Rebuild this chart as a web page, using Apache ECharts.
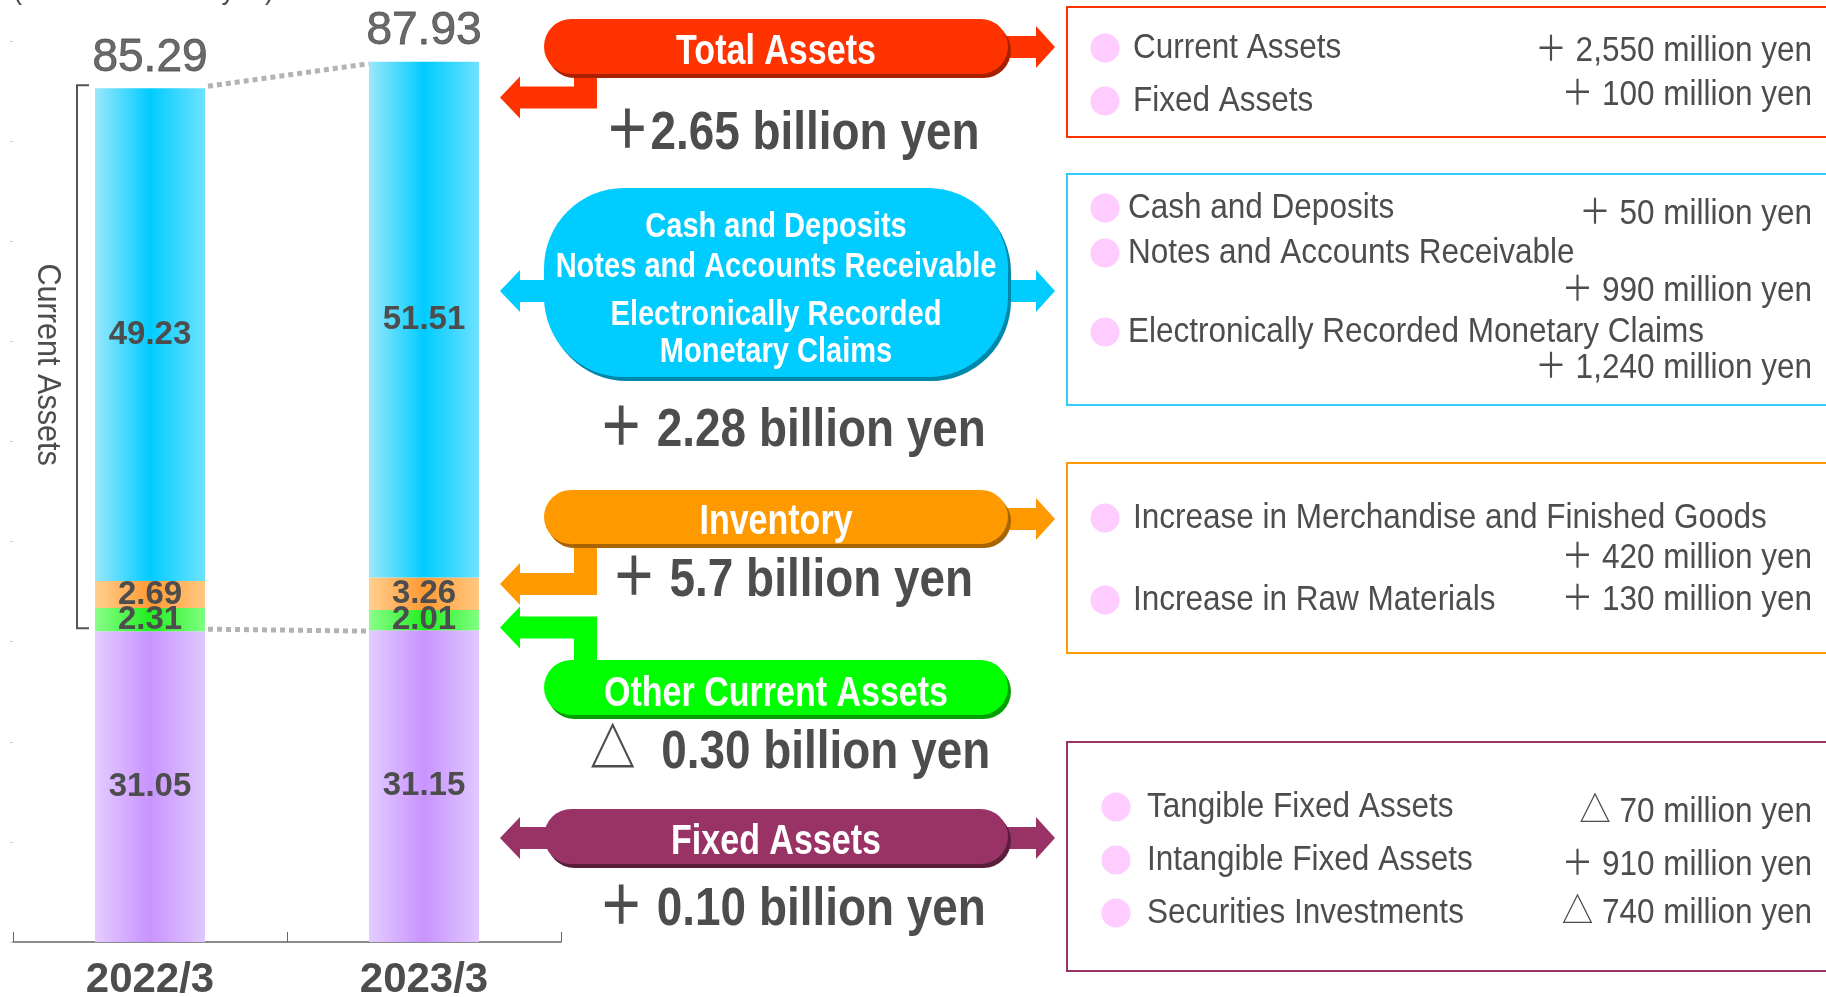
<!DOCTYPE html>
<html>
<head>
<meta charset="utf-8">
<script src="https://cdn.jsdelivr.net/npm/echarts@6/dist/echarts.min.js"></script>
<style>
  html, body { margin: 0; padding: 0; background: #fff; }
  #main { width: 1826px; height: 997px; }
</style>
</head>
<body>
<div id="main"></div>
<script>
// values (unit: 100 million yen)
const categories = ['2022/3', '2023/3']
const fixedAssets = [31.05, 31.15]
const otherCurrent = [2.31, 2.01]
const inventory = [2.69, 3.26]
const cashReceivables = [49.23, 51.51]
const totals = [85.29, 87.93]

// callout texts
const calloutTitles = ['Total Assets', 'Inventory', 'Other Current Assets', 'Fixed Assets']
const cashTitleLines = ['Cash and Deposits', 'Notes and Accounts Receivable', 'Electronically Recorded', 'Monetary Claims']
const calloutChanges = ['＋2.65 billion yen', '＋ 2.28 billion yen', '＋ 5.7 billion yen', '△  0.30 billion yen', '＋ 0.10 billion yen']

// detail boxes: [label, change]
const totalDetails = [['Current Assets', '＋ 2,550 million yen'], ['Fixed Assets', '＋ 100 million yen']]
const cashDetails = [['Cash and Deposits', '＋ 50 million yen'], ['Notes and Accounts Receivable', '＋ 990 million yen'], ['Electronically Recorded Monetary Claims', '＋ 1,240 million yen']]
const inventoryDetails = [['Increase in Merchandise and Finished Goods', '＋ 420 million yen'], ['Increase in Raw Materials', '＋ 130 million yen']]
const fixedDetails = [['Tangible Fixed Assets', '△ 70 million yen'], ['Intangible Fixed Assets', '＋ 910 million yen'], ['Securities Investments', '△ 740 million yen']]

const FONT = "'Liberation Sans', 'Noto Sans CJK JP', Arial, sans-serif"
const GRAY = '#4d4d4d'

const grad = (edgeL, mid, edgeR) => new echarts.graphic.LinearGradient(0, 0, 1, 0, [
  { offset: 0, color: edgeL },
  { offset: 0.5, color: mid },
  { offset: 1, color: edgeR }
])

const segLabel = {
  show: true,
  position: 'inside',
  fontSize: 33,
  fontWeight: 'bold',
  fontFamily: FONT,
  color: GRAY
}

const chart = echarts.init(document.getElementById('main'))

chart.setOption({
  animation: false,
  backgroundColor: '#fff',
  grid: { left: 13, width: 548, top: 41, height: 901, outerBoundsMode: 'none', containLabel: false },
  xAxis: {
    type: 'category',
    data: categories,
    axisLine: { lineStyle: { color: '#666', width: 1.5 } },
    axisTick: { show: true, inside: true, length: 10, lineStyle: { color: '#666' } },
    axisLabel: { fontSize: 42, fontWeight: 'bold', fontFamily: FONT, color: GRAY, margin: 17 }
  },
  yAxis: {
    type: 'value',
    min: 0,
    max: 90,
    interval: 10,
    axisLine: { show: false },
    axisTick: { show: true, length: 3, lineStyle: { color: '#ccc' } },
    axisLabel: { show: false },
    splitLine: { show: false }
  },
  series: [
    {
      name: 'Fixed Assets', type: 'bar', stack: 'a', barWidth: 110, data: fixedAssets,
      itemStyle: { color: grad('#e4ccff', '#c993ff', '#e0c8ff') }, label: segLabel
    },
    {
      name: 'Other Current Assets', type: 'bar', stack: 'a', data: otherCurrent,
      itemStyle: { color: grad('#8aff8a', '#22ee22', '#80ff80') }, label: segLabel
    },
    {
      name: 'Inventory', type: 'bar', stack: 'a', data: inventory,
      itemStyle: { color: grad('#ffcf8f', '#ff9a33', '#ffc880') }, label: segLabel
    },
    {
      name: 'Cash etc.', type: 'bar', stack: 'a', data: cashReceivables,
      itemStyle: { color: grad('#9ae8fc', '#00ccff', '#6ee2ff') }, label: segLabel
    },
    {
      name: 'Total', type: 'scatter', data: totals, symbolSize: 0, silent: true, z: 5,
      label: { show: true, position: 'top', distance: 7, fontSize: 46, fontFamily: FONT, color: '#454545', textBorderColor: '#454545', textBorderWidth: 0.8 }
    }
  ]
})

// ---- annotations, placed from the axes' own scale ----
const px = (i, v) => chart.convertToPixel({ xAxisIndex: 0, yAxisIndex: 0 }, [i, v])
const half = 55

const t0 = px(0, totals[0])
const t1 = px(1, totals[1])
const f0 = px(0, fixedAssets[0])
const f1 = px(1, fixedAssets[1])

const text = (x, y, s, size, o = {}) => ({
  type: 'text', x, y, z: 20,
  scaleX: o.sx || 1, rotation: o.rot || 0,
  style: {
    text: s, fontSize: size, fontWeight: o.bold ? 'bold' : 'normal', fontFamily: FONT,
    fill: o.color || GRAY, align: o.align || 'left', verticalAlign: 'middle'
  }
})

const pill = (x, y, w, h, r, color, dark) => [
  { type: 'rect', z: 6, shape: { x: x + 3, y: y + 4, width: w, height: h, r }, style: { fill: dark } },
  { type: 'rect', z: 7, shape: { x, y, width: w, height: h, r }, style: { fill: color } }
]

const poly = (points, color) => ({ type: 'polygon', z: 5, shape: { points }, style: { fill: color } })
const rightArrow = (yc, color) => poly([[1000, yc - 11], [1036, yc - 11], [1036, yc - 21], [1055, yc], [1036, yc + 21], [1036, yc + 11], [1000, yc + 11]], color)
const leftArrow = (yc, color) => poly([[556, yc - 11], [520, yc - 11], [520, yc - 21], [500, yc], [520, yc + 21], [520, yc + 11], [556, yc + 11]], color)
const elbowDown = (yStem, yc, color) => poly([[574, yStem], [597, yStem], [597, yc + 11], [520, yc + 11], [520, yc + 21], [500, yc], [520, yc - 21], [520, yc - 11], [574, yc - 11]], color)
const elbowUp = (yStem, yc, color) => poly([[597, yStem], [597, yc - 11], [520, yc - 11], [520, yc - 21], [500, yc], [520, yc + 21], [520, yc + 11], [574, yc + 11], [574, yStem]], color)

const box = (y, h, color) => ({ type: 'rect', z: 4, shape: { x: 1067, y, width: 800, height: h }, style: { fill: 'none', stroke: color, lineWidth: 2 } })
const bullet = (x, y) => ({ type: 'circle', z: 8, shape: { cx: x, cy: y, r: 14.5 }, style: { fill: '#ffccff' } })

const detailRows = (rows, bx, tx, ys, vys) => {
  const out = []
  rows.forEach((r, i) => {
    out.push(bullet(bx, ys[i]))
    out.push(text(tx, ys[i], r[0], 35, { sx: 0.9 }))
    out.push(text(1812, vys[i], r[1], 35, { sx: 0.9, align: 'right' }))
  })
  return out
}

const g = []

// unit caption (cut at top edge)
g.push(text(13, -9, '(Unit: 100 million yen)', 30, { sx: 0.9 }))

// dotted connectors between the two bars
const dotted = { stroke: '#b3b3b3', lineWidth: 5, lineDash: [5, 4] }
g.push({ type: 'line', z: 3, shape: { x1: t0[0] + half + 3, y1: t0[1] - 2, x2: t1[0] - half, y2: t1[1] + 2 }, style: dotted })
g.push({ type: 'line', z: 3, shape: { x1: f0[0] + half + 3, y1: f0[1] - 2, x2: f1[0] - half, y2: f1[1] + 1 }, style: dotted })

// Current Assets bracket
const bTop = t0[1] - 3
const bBot = f0[1] - 3
g.push({ type: 'polyline', z: 3, shape: { points: [[89, bTop], [77, bTop], [77, bBot], [89, bBot]] }, style: { stroke: '#555', lineWidth: 2, fill: 'none' } })
g.push(text(47, (bTop + bBot) / 2 + 8, 'Current Assets', 34, { sx: 0.9, rot: -Math.PI / 2, align: 'center' }))

// Total Assets callout
g.push(...pill(544, 19, 464, 55, 27.5, '#ff3300', '#a82000'))
g.push(rightArrow(47, '#ff3300'), elbowDown(70, 97.5, '#ff3300'))
g.push(text(776, 52, calloutTitles[0], 42, { bold: true, sx: 0.81, color: '#fff', align: 'center' }))
g.push(text(792, 134, calloutChanges[0], 54, { bold: true, sx: 0.85, align: 'center' }))

// Cash / receivables callout
g.push(...pill(544, 188, 464, 189, 80, '#00ccff', '#0088aa'))
g.push(rightArrow(291, '#00ccff'), leftArrow(291, '#00ccff'))
const cashYs = [227, 267, 315, 352]
cashTitleLines.forEach((s, i) => g.push(text(776, cashYs[i], s, 35, { bold: true, sx: 0.83, color: '#fff', align: 'center' })))
g.push(text(792, 431, calloutChanges[1], 54, { bold: true, sx: 0.85, align: 'center' }))

// Inventory callout
g.push(...pill(544, 490, 464, 54, 27, '#ff9900', '#a86400'))
g.push(rightArrow(519, '#ff9900'), elbowDown(535, 584, '#ff9900'))
g.push(text(776, 522, calloutTitles[1], 42, { bold: true, sx: 0.81, color: '#fff', align: 'center' }))
g.push(text(792, 581, calloutChanges[2], 54, { bold: true, sx: 0.85, align: 'center' }))

// Other current assets callout
g.push(...pill(544, 660, 464, 55, 27.5, '#00ff00', '#00a000'))
g.push(elbowUp(670, 627.5, '#00ff00'))
g.push(text(776, 694, calloutTitles[2], 42, { bold: true, sx: 0.81, color: '#fff', align: 'center' }))
g.push(text(790, 753, calloutChanges[3], 54, { bold: true, sx: 0.85, align: 'center' }))

// Fixed assets callout
g.push(...pill(544, 809, 464, 55, 27.5, '#993366', '#5a1e3c'))
g.push(rightArrow(838, '#993366'), leftArrow(838, '#993366'))
g.push(text(776, 842, calloutTitles[3], 42, { bold: true, sx: 0.81, color: '#fff', align: 'center' }))
g.push(text(792, 910, calloutChanges[4], 54, { bold: true, sx: 0.85, align: 'center' }))

// detail boxes
g.push(box(7, 130, '#ff3300'))
g.push(...detailRows(totalDetails, 1105, 1133, [48, 101], [51, 95]))
g.push(box(174, 231, '#33ccff'))
g.push(...detailRows(cashDetails, 1105, 1128, [208, 253, 332], [214, 291, 368]))
g.push(box(463, 190, '#ff9900'))
g.push(...detailRows(inventoryDetails, 1105, 1133, [518, 600], [558, 600]))
g.push(box(742, 229, '#993366'))
g.push(...detailRows(fixedDetails, 1116, 1147, [807, 860, 913], [812, 865, 913]))

chart.setOption({ graphic: g })
</script>
</body>
</html>
